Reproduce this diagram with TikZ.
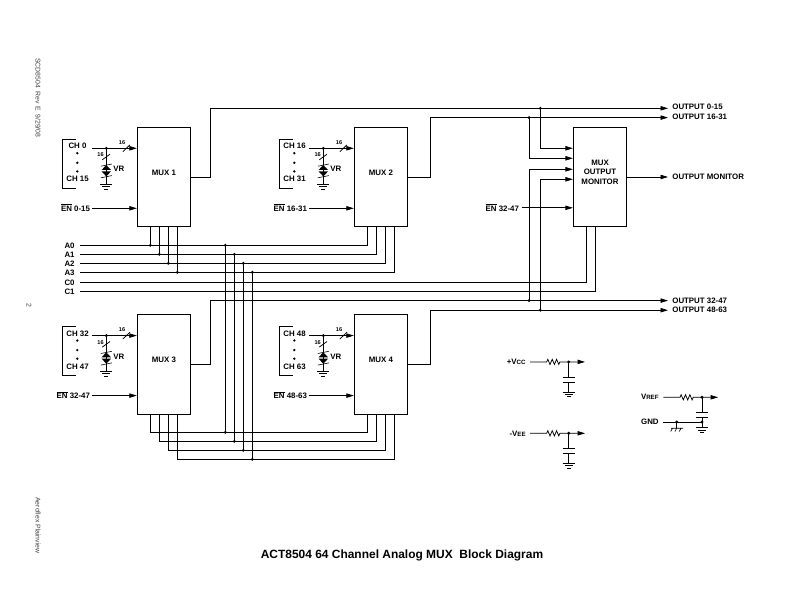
\documentclass[tikz,border=0pt]{standalone}
\usepackage{fontspec}
\setmainfont{Liberation Sans}
\usetikzlibrary{arrows.meta,positioning}

\newcommand{\lblfont}{\bfseries\fontsize{7.9}{9.4}\selectfont}
\newcommand{\enbar}{$\overline{\mbox{EN}}$}
\newcommand{\lowcaps}[2]{#1{\fontsize{6.2}{7}\selectfont #2}}
\newcommand{\reszig}{-- ++(1.1,-2.6) -- ++(2.2,5.2) -- ++(2.2,-5.2) -- ++(2.2,5.2) -- ++(2.2,-5.2) -- ++(2.2,5.2) -- ++(1.1,-2.6)}

\begin{document}
\begin{tikzpicture}[
  x=1bp, y=-1bp,
  line width=0.75pt,
  muxbox/.style={draw, minimum width=53.4bp, minimum height=99.4bp, inner sep=0pt},
  lbl/.style={inner sep=0pt, align=center, font=\lblfont},
  buswidth/.style={inner sep=0pt, font=\bfseries\fontsize{5.6}{6.5}\selectfont},
  sidetxt/.style={inner sep=0pt, rotate=-90, text=black!75, font=\fontsize{6.9}{8}\selectfont},
  arr/.style={-{Stealth[length=7.5pt, width=4.4pt, inset=0pt]}},
  gnd/.pic={\draw[line width=0.6pt] (-6,0) -- (6,0) (-4,2.4) -- (4,2.4) (-2,4.8) -- (2,4.8);},
  capplates/.pic={\draw (-6,0) -- (6,0) (-6,4.6) -- (6,4.6);}
]
  \useasboundingbox (0,0) rectangle (792,612);

  % the four multiplexers and the monitor
  \node[muxbox, label={[lbl, yshift=4.2bp]center:MUX 1}] (mux1) at (163.9,177) {};
  \node[muxbox, label={[lbl, yshift=4.2bp]center:MUX 2}] (mux2) at (380.9,177) {};
  \node[muxbox, label={[lbl, yshift=4.2bp]center:MUX 3}] (mux3) at (163.9,364.3) {};
  \node[muxbox, label={[lbl, yshift=4.2bp]center:MUX 4}] (mux4) at (380.9,364.3) {};
  \node[muxbox, label={[lbl, yshift=5bp]center:MUX\\OUTPUT\\MONITOR}] (mon) at (600,177) {};

  % channel inputs, clamps and enables
  \foreach \m/\dx/\dy/\chfirst/\chlast/\enr in {1/0/0/0/15/0-15, 2/217/0/16/31/16-31,
      3/0/187.3/32/47/32-47, 4/217/187.3/48/63/48-63} {
    \begin{scope}[shift={(\dx,\dy)}]
      \node[lbl] (chtop\m) at (77.5,146) {CH \chfirst};
      \node[lbl] (chbot\m) at (77.5,179) {CH \chlast};
      \foreach \yd in {153.2,162.8,171.4} \fill (77.3,\yd) circle (1.3);
      \draw (75.7,139.3) -| (62.3,188.3) -- (75.7,188.3);
      \coordinate (chin\m) at (92.3,148.3);
      \coordinate (clamp\m) at (106.3,148.3);
      \coordinate (clampgnd\m) at (106.3,184);
      \draw[arr] (chin\m) -- (chin\m -| mux\m.west);
      \fill (clamp\m) circle (1.6);
      \draw (clamp\m) -- (clampgnd\m);
      \pic at (clampgnd\m) {gnd};
      % bus slashes
      \draw (122.8,151.8) -- (130,144.8);
      \draw (102.3,159.8) -- (110,154.2);
      \node[buswidth] (wbus\m) at (122,142.6) {16};
      \node[buswidth] (wvr\m) at (100.6,154.8) {16};
      % back to back zeners
      \fill (106.3,165) -- (111,170) -- (101.6,170) -- cycle;
      \fill (106.3,176.4) -- (111,171.4) -- (101.6,171.4) -- cycle;
      \draw[line width=0.6pt] (100.8,166.2) -- (111.8,164);
      \draw[line width=0.6pt] (100.8,177.8) -- (111.8,175.6);
      \node[lbl, anchor=west] (vr\m) at (113,169) {VR};
      \coordinate (enin\m) at (92.3,208.3);
      \node[lbl, anchor=east] (en\m) at (90.3,207.6) {\enbar\ \enr};
      \draw[arr] (enin\m) -- (enin\m -| mux\m.west);
    \end{scope}
  }

  % address lines, top pair of muxes, then on to the bottom pair
  \foreach \n/\ya/\yb/\xl/\xm/\xr in {0/245.3/432.3/150.3/225.3/367.7, 1/254.3/441.3/159.3/234.3/376.7,
      2/263.3/450.3/168.3/243.3/385.7, 3/272.3/459.3/177.3/252.3/394.7} {
    \node[lbl, anchor=east] (addr\n) at (75,\ya) {A\n};
    \coordinate (astart\n) at (80,\ya);
    \coordinate (atap\n) at (\xl,\ya);
    \coordinate (adrop\n) at (\xm,\ya);
    \coordinate (bdrop\n) at (\xm,\yb);
    \draw (astart\n) -- (\xr,\ya) -- (\xr,\ya |- mux2.south);
    \draw (atap\n) -- (atap\n |- mux1.south);
    \draw (adrop\n) -- (bdrop\n);
    \draw (\xl,\yb) -- (\xl,\yb |- mux3.south);
    \draw (\xl,\yb) -- (\xr,\yb) -- (\xr,\yb |- mux4.south);
    \fill (atap\n) circle (1.6);
    \fill (adrop\n) circle (1.6);
    \fill (bdrop\n) circle (1.6);
  }

  % monitor select lines
  \node[lbl, anchor=east] (c0) at (75,282.3) {C0};
  \node[lbl, anchor=east] (c1) at (75,291.3) {C1};
  \coordinate (c0start) at (80,282.3);
  \coordinate (c1start) at (80,291.3);
  \draw (c0start) -| (586.7,226.7);
  \draw (c1start) -| (595.7,226.7);

  % mux outputs
  \coordinate (out0) at (668,108.3);
  \coordinate (out1) at (668,117.6);
  \coordinate (out2) at (668,300.6);
  \coordinate (out3) at (668,310.2);
  \draw[arr] (mux1.east) -| (210.5,108.3) -- (out0);
  \draw[arr] (mux2.east) -| (430,117.6) -- (out1);
  \draw[arr] (mux3.east) -| (210.5,300.6) -- (out2);
  \draw[arr] (mux4.east) -| (430,310.2) -- (out3);
  \node[lbl, anchor=west] (outlbl0) at (672,106.8) {OUTPUT 0-15};
  \node[lbl, anchor=west] (outlbl1) at (672,116.8) {OUTPUT 16-31};
  \node[lbl, anchor=west] (outlbl2) at (672,300.4) {OUTPUT 32-47};
  \node[lbl, anchor=west] (outlbl3) at (672,309.8) {OUTPUT 48-63};

  % monitor inputs
  \coordinate (tap0) at (540.3,108.3);
  \coordinate (tap1) at (529,117.6);
  \coordinate (tap2) at (529,300.6);
  \coordinate (tap3) at (540.3,310.2);
  \draw[arr] (tap0) |- (mon.west |- 0,148.3);
  \draw[arr] (tap1) |- (mon.west |- 0,158.3);
  \draw[arr] (tap2) |- (mon.west |- 0,169.3);
  \draw[arr] (tap3) |- (mon.west |- 0,179.3);
  \foreach \t in {0,1,2,3} \fill (tap\t) circle (1.6);
  \node[lbl, anchor=east] (enmon) at (519.3,207.6) {\enbar\ 32-47};
  \coordinate (enmonin) at (521.5,207.8);
  \draw[arr] (enmonin) -- (enmonin -| mon.west);
  \coordinate (monout) at (668,177);
  \draw[arr] (mon.east) -- (monout);
  \node[lbl, anchor=west] (monlbl) at (672,176.6) {OUTPUT MONITOR};

  % supply filters
  \foreach \s/\y/\txt in {vcc/361.9/{\lowcaps{+V}{CC}}, vee/433.3/{\lowcaps{-V}{EE}}} {
    \node[lbl, anchor=east] (\s) at (526,\y) {\txt};
    \coordinate (\s in) at (530,\y);
    \coordinate (\s tap) at (568.7,\y);
    \coordinate (\s cap) at (568.7,\y+15.4);
    \coordinate (\s gnd) at (568.7,\y+30);
    \draw[arr] (\s in) -- (546.7,\y) \reszig -- (585,\y);
    \fill (\s tap) circle (1.6);
    \draw (\s tap) -- (\s cap) ++(0,4.6) -- (\s gnd);
    \pic at (\s cap) {capplates};
    \pic at (\s gnd) {gnd};
  }

  % reference filter
  \node[lbl, anchor=east] (vref) at (659,396.4) {\lowcaps{V}{REF}};
  \node[lbl, anchor=east] (agnd) at (659,421.4) {GND};
  \coordinate (vrefin) at (663.3,397.3);
  \coordinate (vreftap) at (702,397.3);
  \coordinate (vrefcap) at (702,412.4);
  \coordinate (gndin) at (663.3,422);
  \coordinate (gndtap) at (702,422);
  \coordinate (gndchas) at (676.7,422);
  \coordinate (vrefgnd) at (702,427.5);
  \draw[arr] (vrefin) -- (680,397.3) \reszig -- (718,397.3);
  \fill (vreftap) circle (1.6);
  \draw (vreftap) -- (vrefcap) ++(0,4.6) -- (vrefgnd);
  \pic at (vrefcap) {capplates};
  \draw (gndin) -- (gndtap);
  \fill (gndtap) circle (1.6);
  \fill (gndchas) circle (1.6);
  \pic at (vrefgnd) {gnd};
  % chassis ground
  \draw (gndchas) -- ++(0,6.2) coordinate (chas);
  \draw[line width=0.6pt] (671,428.2) -- (683,428.2)
    (672.5,428.2) -- ++(-1.8,3.4) (676.7,428.2) -- ++(-1.8,3.4) (681,428.2) -- ++(-1.8,3.4);

  % page furniture
  \node[inner sep=0pt, font=\bfseries\fontsize{12}{14}\selectfont] (pgtitle) at (402,555)
    {ACT8504 64 Channel Analog MUX\ \ Block Diagram};
  \node[sidetxt, anchor=west] (docref) at (38,58) {SCD8504\ \ Rev E\ \ 9/29/08};
  \node[sidetxt] (pageno) at (29,305) {2};
  \node[sidetxt, anchor=west] (site) at (38,497) {Aeroflex Plainview};
\end{tikzpicture}
\end{document}
